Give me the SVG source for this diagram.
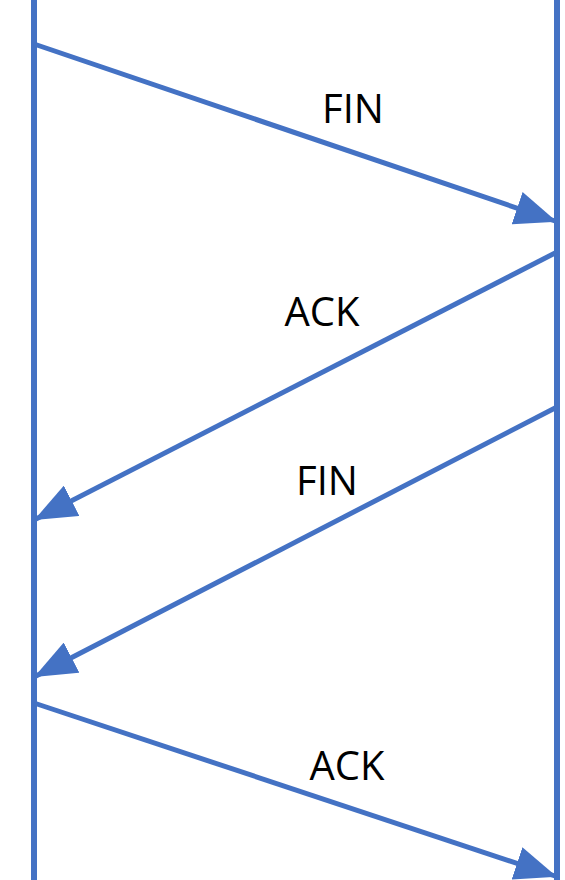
<svg xmlns="http://www.w3.org/2000/svg" width="565" height="880" viewBox="0 0 565 880">
  <style>
    .life { stroke: #4472C4; stroke-width: 6; fill: none; }
    .msg { stroke: #4472C4; stroke-width: 5; fill: none; marker-end: url(#head); }
    .lbl { font-family: "Open Sans", "Liberation Sans", sans-serif; font-size: 40px; fill: #000; text-anchor: middle; }
  </style>
  <defs>
    <marker id="head" markerUnits="userSpaceOnUse" markerWidth="42" markerHeight="34" viewBox="0 0 42 34" refX="40" refY="17" orient="auto">
      <path d="M0,0 L42,17 L0,34 Z" fill="#4472C4"/>
    </marker>
  </defs>
  <g id="lifelines">
    <line id="client" class="life" x1="34" y1="0" x2="34" y2="880"/>
    <line id="server" class="life" x1="557" y1="0" x2="557" y2="880"/>
  </g>
  <g id="connectors">
    <line class="msg" x1="34" y1="44" x2="555" y2="221"/>
    <line class="msg" x1="557" y1="252" x2="36" y2="519"/>
    <line class="msg" x1="557" y1="407" x2="36" y2="676"/>
    <line class="msg" x1="34" y1="703" x2="555" y2="876"/>
  </g>
  <g id="labels">
    <text class="lbl" x="353" y="123">FIN</text>
    <text class="lbl" x="322" y="326">ACK</text>
    <text class="lbl" x="327" y="495">FIN</text>
    <text class="lbl" x="347" y="780">ACK</text>
  </g>
</svg>
